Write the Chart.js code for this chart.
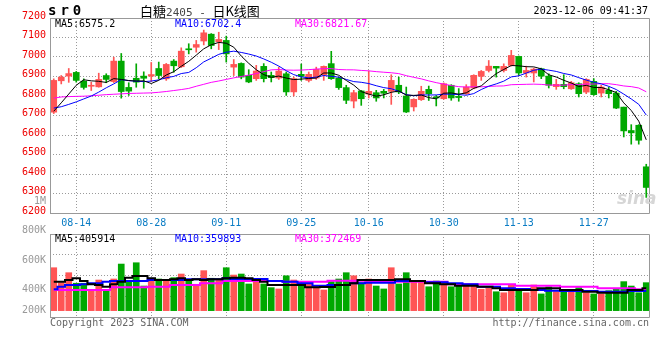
<!DOCTYPE html>
<html><head><meta charset="utf-8">
<script src="https://cdn.jsdelivr.net/npm/chart.js@4/dist/chart.umd.min.js"></script>
<style>
html,body{margin:0;padding:0;background:#fff;}
#wrap{position:relative;width:660px;height:360px;overflow:hidden;font-family:'DejaVu Sans Mono',monospace;font-size:10px;}
canvas{position:absolute;left:0;}
.t{position:absolute;white-space:pre;line-height:12px;font-size:10px;}
</style></head><body>
<div id="wrap">
<canvas id="price" width="660" height="236" style="top:0"></canvas>
<canvas id="vol" width="660" height="100" style="top:224px"></canvas>
<div class="t" style="left:48px;top:2px;font-size:14px;line-height:16px;font-weight:bold;letter-spacing:4px;color:#000">sr0</div>
<div class="t" style="left:140px;top:2px;font-family:'Noto Sans CJK SC';font-size:13px;line-height:17px;color:#000">白糖<span style="color:#444;font-family:'DejaVu Sans Mono';font-size:11px">2405 - </span>日K线图</div>
<div class="t" style="right:12px;top:5px;color:#000">2023-12-06 09:41:37</div>
<div class="t" style="left:55px;top:18px;color:#000">MA5:6575.2</div>
<div class="t" style="left:175px;top:18px;color:#0000ff">MA10:6702.4</div>
<div class="t" style="left:295px;top:18px;color:#ff00ff">MA30:6821.67</div>
<div class="t" style="right:614px;top:195px;color:#999">1M</div>
<div class="t" style="left:617px;top:189px;font-family:'DejaVu Sans';font-style:italic;font-weight:bold;font-size:17px;line-height:18px;color:#d6d6d6">sina</div>
<div class="t" style="left:55px;top:233px;color:#000">MA5:405914</div>
<div class="t" style="left:175px;top:233px;color:#0000ff">MA10:359893</div>
<div class="t" style="left:295px;top:233px;color:#ff00ff">MA30:372469</div>
<div class="t" style="left:50px;top:317px;color:#666">Copyright 2023 SINA.COM</div>
<div class="t" style="right:11px;top:317px;color:#666">http://finance.sina.com.cn</div>
</div>
<script>
// ---- categories (trading days) ----
const dates = ['08-09','08-10','08-11','08-14','08-15','08-16','08-17','08-18','08-21','08-22',
'08-23','08-24','08-25','08-28','08-29','08-30','08-31','09-01','09-04','09-05',
'09-06','09-07','09-08','09-11','09-12','09-13','09-14','09-15','09-18','09-19',
'09-20','09-21','09-22','09-25','09-26','09-27','09-28','10-09','10-10','10-11',
'10-12','10-13','10-16','10-17','10-18','10-19','10-20','10-23','10-24','10-25',
'10-26','10-27','10-30','10-31','11-01','11-02','11-03','11-06','11-07','11-08',
'11-09','11-10','11-13','11-14','11-15','11-16','11-17','11-20','11-21','11-22',
'11-23','11-24','11-27','11-28','11-29','11-30','12-01','12-04','12-05','12-06'];
const tickDates = ['08-14','08-28','09-11','09-25','10-16','10-30','11-13','11-27'];

// ---- price series ----
const open = [6717,6878,6902,6921,6876,6850,6847,6905,6874,6979,
6844,6891,6902,6902,6941,6888,6979,6950,7040,7050,
7082,7117,7078,7085,6948,6967,6906,6889,6952,6906,
6892,6914,6821,6911,6880,6892,6909,6966,6892,6843,
6774,6826,6810,6817,6824,6824,6855,6800,6744,6781,
6834,6795,6786,6855,6798,6812,6841,6901,6931,6952,
6931,6957,7003,6918,6918,6940,6902,6848,6860,6837,
6863,6820,6875,6815,6829,6815,6743,6623,6650,6437];
const close = [6880,6897,6915,6880,6844,6853,6885,6885,6979,6823,
6825,6871,6891,6910,6905,6962,6955,7030,7037,7064,
7124,7059,7090,7016,6962,6897,6872,6928,6889,6894,
6928,6821,6889,6901,6911,6937,6952,6889,6843,6778,
6817,6786,6824,6790,6814,6880,6821,6718,6783,6824,
6812,6790,6863,6790,6792,6846,6906,6926,6953,6943,
6952,7008,6918,6931,6938,6902,6855,6860,6848,6868,
6812,6885,6807,6846,6812,6738,6621,6611,6573,6331];
const high = [6888,6905,6941,6926,6888,6871,6917,6914,6999,7018,
6868,6965,6924,6972,6974,6967,6987,7047,7068,7085,
7138,7120,7127,7107,6987,6970,6935,6957,6966,6923,
6948,6923,6897,6964,6923,6948,6954,7029,6897,6855,
6829,6829,6928,6829,6834,6909,6897,6846,6786,6850,
6851,6803,6867,6858,6838,6858,6909,6931,6982,6952,
6965,7034,7005,6953,6943,6943,6914,6885,6909,6875,
6868,6889,6889,6855,6846,6824,6743,6653,6653,6450];
const low = [6710,6862,6870,6871,6835,6828,6845,6868,6869,6789,
6803,6845,6840,6874,6888,6880,6922,6946,7016,7025,
7062,7042,7038,6974,6905,6888,6868,6880,6872,6872,
6885,6803,6800,6880,6872,6885,6880,6885,6834,6761,
6739,6752,6790,6773,6790,6757,6812,6715,6723,6777,
6777,6749,6783,6778,6773,6808,6837,6880,6923,6897,
6923,6953,6906,6897,6872,6889,6841,6834,6837,6834,
6795,6812,6803,6795,6790,6735,6590,6553,6553,6280];
const ma5 = [6722,6765,6810,6855,6883.2,6877.8,6875.4,6869.4,6889.2,6885,
6879.4,6876.6,6877.8,6864,6880.4,6907.8,6924.6,6952.4,6977.8,7009.6,
7042,7062.8,7074.8,7070.6,7050.2,7004.8,6967.4,6935,6909.6,6896,
6902.2,6892,6884.2,6886.6,6890,6891.8,6918,6918,6906.4,6879.8,
6855.8,6822.6,6809.6,6799,6806.2,6818.8,6825.8,6804.6,6803.2,6805.2,
6791.6,6785.4,6814.4,6815.8,6809.4,6816.2,6839.4,6852,6884.6,6914.8,
6936,6956.4,6954.8,6950.4,6949.4,6939.4,6908.8,6897.2,6880.6,6866.6,
6848.6,6854.6,6844,6843.6,6832.4,6817.6,6764.8,6725.6,6671,6575.2];
const ma10 = [6738,6745,6757,6770,6785,6800,6820,6842,6862,6884.1,
6878.6,6876,6873.6,6876.6,6882.7,6893.6,6900.6,6915.1,6920.9,6945,
6974.9,6993.7,7013.6,7024.2,7029.9,7023.4,7015.1,7004.9,6990.1,6973.1,
6953.5,6929.7,6909.6,6898.1,6893,6897,6905,6901.1,6896.5,6884.9,
6873.8,6870.3,6863.8,6852.7,6843,6837.3,6824.2,6807.1,6801.1,6805.7,
6805.2,6805.6,6809.5,6809.5,6807.3,6803.9,6812.4,6833.2,6850.2,6862.1,
6876.1,6897.9,6903.4,6917.5,6932.1,6937.7,6932.6,6926,6915.5,6908,
6894,6881.7,6870.6,6862.1,6849.5,6833.1,6809.7,6784.8,6757.3,6702.4];
const ma30 = [6789,6795,6797,6798,6799,6801,6804,6807,6809,6811,
6813,6814,6815,6816,6819,6823,6828,6833,6839,6850,
6860,6870,6877,6885,6893,6900,6907,6915,6925,6934.1,
6935.7,6933.1,6932.3,6933,6935.2,6938,6940.2,6940.4,6935.8,6934.3,
6934.1,6931.2,6929,6925,6922,6919.2,6914.8,6904.4,6895.9,6887.9,
6877.5,6868.5,6861,6853.4,6847.8,6846.1,6847.2,6847.1,6849.3,6850.9,
6851.7,6857.9,6858.9,6859.9,6860.8,6859.6,6856.4,6855.4,6855.6,6858.6,
6858.4,6861.7,6861.2,6863,6863,6858.2,6851.6,6848,6841,6821.67];

// ---- volume series ----
const volume = [561000,459000,527000,455000,455000,409000,477000,409000,484000,586000,
466000,595000,436000,477000,484000,477000,493000,518000,477000,448000,
541000,489000,477000,561000,511000,518000,450000,466000,450000,425000,
416000,506000,477000,443000,448000,425000,409000,466000,484000,527000,
506000,459000,484000,436000,416000,561000,450000,527000,466000,466000,
431000,470000,466000,431000,436000,443000,436000,414000,420000,397000,
390000,443000,404000,390000,443000,382000,431000,397000,409000,404000,
425000,390000,382000,382000,404000,414000,466000,436000,390000,459000];
const volMa5 = [465500,465500,477100,488700,470300,447800,443000,431400,447800,465500,
492800,504400,504400,488700,477100,477100,481900,488700,477100,481900,
477100,481900,481900,488700,492800,492800,488700,477100,465500,443000,
443000,443000,443000,443000,427300,427300,429300,429300,443000,443000,
454600,477100,477100,477100,477100,477100,481900,481900,470300,470300,
454600,454600,447800,447800,438200,438200,438200,431400,431400,420500,
408900,408900,408900,408900,408900,420500,420500,420500,408900,408900,
408900,397300,397300,390400,390400,390400,390400,408900,408900,420500];
const volMa10 = [413600,431400,443000,443000,447800,454600,454600,465500,470300,470300,
470300,470300,470300,477100,477100,477100,477100,477100,481900,481900,
481900,481900,481900,488700,484000,484000,484000,484000,484000,470300,
470300,465500,465500,454600,454600,438200,438200,443000,443000,443000,
454600,454600,458700,458700,458700,458700,470300,470300,470300,470300,
461400,461400,461400,454600,454600,447800,447800,431400,431400,431400,
420500,420500,415700,415700,408900,408900,404100,404100,402000,402000,
402000,402000,402000,397300,397300,397300,397300,402000,402000,402000];
const volMa30 = [408900,408900,408900,408900,408900,408900,408900,408900,427300,427300,
427300,427300,427300,431400,431400,431400,443000,443000,443000,443000,
454600,454600,454600,470300,470300,470300,470300,470300,470300,470300,
470300,465500,465500,465500,465500,465500,465500,472400,472400,472400,
472400,472400,472400,465500,465500,465500,465500,465500,465500,465500,
465500,465500,465500,447800,447800,447800,447800,447800,447800,447800,
447800,447800,438200,438200,438200,438200,438200,438200,431400,431400,
431400,431400,431400,420500,420500,420500,420500,420500,413600,413600];
const volTickValues = [800000,600000,400000,200000];

// ---- styling ----
const RED = '#ff5555', GREEN = '#00a800';
const GRID = '#9a9a9a', FRAME = '#999999';
const FONT = {family: "'DejaVu Sans Mono', monospace", size: 10};
const isUp = i => close[i] >= open[i];
const candleColor = ctx => isUp(ctx.dataIndex) ? RED : GREEN;
const gridColor = ctx => (ctx.tick && tickDates.includes(dates[ctx.tick.value])) ? GRID : 'rgba(0,0,0,0)';

const framePlugin = {
  id: 'frame',
  afterDraw(chart) {
    const {ctx, chartArea: a} = chart;
    const L = Math.floor(a.left) + 0.5, R = Math.ceil(a.right) - 0.5;
    const T = Math.floor(a.top) + 0.5, B = Math.floor(a.bottom) + 0.5;
    ctx.save();
    ctx.strokeStyle = FRAME; ctx.lineWidth = 1; ctx.setLineDash([]);
    ctx.beginPath();
    ctx.moveTo(L, T); ctx.lineTo(R, T); ctx.lineTo(R, B); ctx.lineTo(L, B); ctx.closePath();
    ctx.stroke();
    ctx.restore();
  }
};

const maLine = (label, data, color, width, stepped) => ({
  type: 'line', label, data, borderColor: color, backgroundColor: color,
  borderWidth: width, pointRadius: 0, tension: 0, stepped: stepped || false, order: 0
});

const xScale = (showTicks, height) => ({
  type: 'category',
  offset: true,
  grid: {color: gridColor, offset: false, drawTicks: false, lineWidth: 1},
  border: {display: false, dash: [1, 2]},
  ticks: {
    display: showTicks, autoSkip: false, maxRotation: 0, minRotation: 0,
    color: '#0a7cc4', font: FONT, padding: 4,
    callback: (v, i) => tickDates.includes(dates[i]) ? dates[i] : ''
  },
  afterFit: s => { s.height = height; }
});

// ---- price chart ----
new Chart(document.getElementById('price'), {
  type: 'bar',
  data: {
    labels: dates,
    datasets: [
      maLine('MA5', ma5, '#000000', 1),
      maLine('MA10', ma10, '#0000ff', 1),
      maLine('MA30', ma30, '#ff00ff', 1),
      {label: 'body', data: dates.map((d, i) => [open[i], close[i]]), backgroundColor: candleColor,
       barThickness: 6, grouped: false, minBarLength: 1, order: 1},
      {label: 'wick', data: dates.map((d, i) => [low[i], high[i]]), backgroundColor: candleColor,
       barThickness: 1, grouped: false, order: 2}
    ]
  },
  options: {
    responsive: false, animation: false, events: [],
    layout: {padding: {top: 18, right: 10, left: 0, bottom: 0}},
    plugins: {legend: {display: false}, tooltip: {enabled: false}},
    scales: {
      x: xScale(true, 23),
      y: {
        type: 'linear', min: 6200, max: 7200,
        grid: {color: GRID, drawTicks: false, lineWidth: 1},
        border: {display: false, dash: [1, 2]},
        ticks: {stepSize: 100, color: '#ee0000', font: FONT, padding: 4, labelOffset: -2,
                callback: v => String(v)},
        afterFit: s => { s.width = 50; }
      }
    }
  },
  plugins: [framePlugin]
});

// ---- volume chart ----
const volLabels = {
  id: 'volLabels',
  afterDraw(chart) {
    const {ctx, chartArea: a, scales} = chart;
    ctx.save();
    ctx.font = "10px 'DejaVu Sans Mono', monospace";
    ctx.fillStyle = '#999999'; ctx.textAlign = 'right'; ctx.textBaseline = 'middle';
    volTickValues.forEach(v => {
      let y = scales.y.getPixelForValue(v) - 2;
      y = Math.min(y, a.bottom - 7);
      ctx.fillText((v / 1000) + 'K', a.left - 4, y);
    });
    ctx.restore();
  }
};

new Chart(document.getElementById('vol'), {
  type: 'bar',
  data: {
    labels: dates,
    datasets: [
      maLine('MA5', volMa5, '#000000', 2, 'middle'),
      maLine('MA10', volMa10, '#0000ff', 2, 'middle'),
      maLine('MA30', volMa30, '#ff00ff', 2, 'middle'),
      {label: 'volume', data: volume, backgroundColor: candleColor, barThickness: 6,
       base: 268000, order: 1}
    ]
  },
  options: {
    responsive: false, animation: false, events: [],
    layout: {padding: {top: 10, right: 10, left: 0, bottom: 0}},
    plugins: {legend: {display: false}, tooltip: {enabled: false}},
    scales: {
      x: xScale(false, 7),
      y: {
        type: 'linear', min: 224600, max: 791100,
        grid: {color: GRID, drawTicks: false, lineWidth: 1},
        border: {display: false, dash: [1, 2]},
        ticks: {display: false},
        afterBuildTicks: s => {
          const n = 4, t = [];
          for (let k = 0; k <= n; k++) t.push({value: s.min + (s.max - s.min) * k / n});
          s.ticks = t;
        },
        afterFit: s => { s.width = 50; }
      }
    }
  },
  plugins: [framePlugin, volLabels]
});
</script>
</body></html>
